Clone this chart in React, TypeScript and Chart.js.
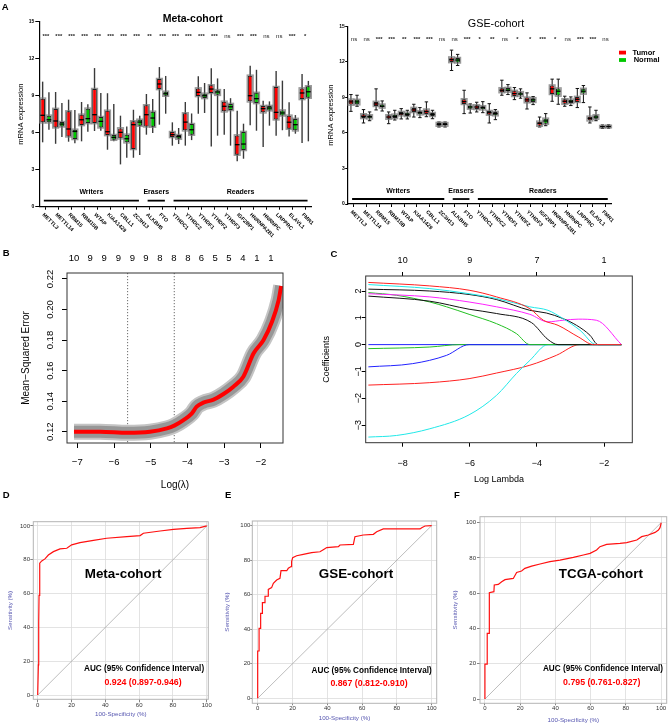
import React, { useEffect, useRef } from 'react';
import { Chart, registerables } from 'chart.js';

Chart.register(...registerables);

const FONT = '"Liberation Sans", Arial, Helvetica, sans-serif';
Chart.defaults.font.family = FONT;
Chart.defaults.color = '#000';

// ---------------- Panel A data ----------------
const GENES = ['METTL3', 'METTL14', 'RBM15', 'RBM15B', 'WTAP', 'KIAA1429', 'CBLL1', 'ZC3H13', 'ALKBH5', 'FTO', 'YTHDC1', 'YTHDC2', 'YTHDF1', 'YTHDF2', 'YTHDF3', 'IGF2BP1', 'HNRNPA2B1', 'HNRNPC', 'LRPPRC', 'ELAVL1', 'FMR1'];
const GROUP_NAMES = ['Writers', 'Erasers', 'Readers'];
const GROUP_SPANS = [[0, 7], [8, 9], [10, 20]];
const SERIES_NAMES = ['Tumor', 'Normal'];
const Y_TICKS_A = [0, 3, 6, 9, 12, 15];
const META_SIG = ['***', '***', '***', '***', '***', '***', '***', '***', '**', '***', '***', '***', '***', '***', 'ns', '***', '***', 'ns', 'ns', '***', '*'];
const GSE_SIG = ['ns', 'ns', '***', '***', '**', '***', '***', 'ns', 'ns', '***', '*', '**', 'ns', '*', '*', '***', '*', 'ns', '***', '***', 'ns'];

// [min, q1, median, q3, max]
const META_TUMOR = [
  [5.22, 6.84, 7.41, 8.76, 10.14], [5.1, 6.43, 6.95, 7.93, 9.3], [5.27, 5.7, 6.3, 7.73, 8.68],
  [5.3, 6.62, 7.05, 7.46, 8.49], [6.14, 6.78, 7.46, 9.54, 11.24], [4.62, 5.81, 6.08, 7.78, 9.2],
  [3.43, 5.54, 6.03, 6.35, 7.38], [3.97, 4.68, 6.65, 6.92, 7.86], [5.84, 6.51, 7.46, 8.22, 9.14],
  [6.65, 9.54, 9.95, 10.35, 11.32], [4.95, 5.65, 5.84, 6.05, 6.84], [4.95, 6.19, 6.86, 7.57, 8.49],
  [7.54, 8.97, 9.27, 9.59, 10.57], [4.89, 9.22, 9.54, 9.84, 11.22], [5.84, 7.73, 8.14, 8.51, 9.54],
  [3.68, 4.22, 5.03, 5.78, 7.78], [6.6, 8.54, 9.0, 10.62, 11.43], [4.85, 7.65, 7.95, 8.16, 8.6],
  [5.76, 7.08, 7.65, 9.7, 11.0], [5.7, 6.33, 6.85, 7.38, 8.46], [5.16, 8.73, 9.22, 9.59, 10.76],
];
const META_NORMAL = [
  [6.24, 6.84, 7.05, 7.38, 9.27], [5.65, 6.51, 6.7, 6.86, 8.4], [5.14, 5.49, 6.1, 6.24, 7.84],
  [6.08, 6.78, 7.14, 7.95, 8.3], [6.16, 6.43, 6.92, 7.27, 9.22], [5.3, 5.43, 5.62, 5.81, 8.32],
  [3.97, 5.22, 5.51, 5.84, 6.51], [4.19, 6.57, 6.86, 7.05, 7.38], [5.97, 6.49, 7.19, 7.7, 8.73],
  [7.54, 9.0, 9.16, 9.32, 10.6], [5.08, 5.51, 5.68, 5.81, 6.38], [5.4, 5.84, 6.24, 6.7, 7.56],
  [7.6, 8.81, 9.0, 9.16, 10.03], [5.76, 9.07, 9.3, 9.45, 10.4], [4.95, 7.84, 8.1, 8.33, 8.8],
  [3.89, 4.6, 5.08, 6.06, 6.73], [6.16, 8.4, 8.76, 9.23, 11.1], [6.57, 7.81, 8.0, 8.17, 8.54],
  [6.2, 7.4, 7.6, 7.8, 10.22], [5.92, 6.19, 6.65, 7.12, 7.43], [5.3, 8.84, 9.32, 9.76, 10.2],
];
const GSE_TUMOR = [
  [7.82, 8.39, 8.62, 8.81, 9.24], [6.84, 7.26, 7.4, 7.57, 7.97], [7.94, 8.28, 8.45, 8.62, 9.72],
  [6.78, 7.2, 7.34, 7.49, 7.77], [7.18, 7.49, 7.63, 7.77, 8.05], [7.34, 7.77, 7.94, 8.11, 8.42],
  [7.37, 7.6, 7.8, 7.97, 8.62], [6.5, 6.61, 6.72, 6.84, 6.92], [11.27, 11.98, 12.18, 12.37, 12.99],
  [7.63, 8.45, 8.64, 8.84, 9.6], [7.77, 8.02, 8.19, 8.33, 8.59], [6.84, 7.54, 7.71, 7.85, 8.47],
  [9.18, 9.44, 9.6, 9.77, 10.45], [8.81, 9.12, 9.32, 9.55, 9.83], [8.02, 8.59, 8.79, 8.98, 9.38],
  [6.5, 6.61, 6.81, 6.95, 7.34], [8.67, 9.29, 9.72, 10.0, 10.54], [8.25, 8.47, 8.67, 8.84, 9.1],
  [8.14, 8.62, 8.84, 9.04, 9.75], [6.84, 7.06, 7.23, 7.37, 8.19], [6.38, 6.47, 6.53, 6.58, 6.67],
];
const GSE_NORMAL = [
  [8.25, 8.42, 8.62, 8.79, 9.18], [7.03, 7.23, 7.37, 7.49, 7.77], [7.85, 8.14, 8.25, 8.39, 8.7],
  [7.09, 7.26, 7.4, 7.54, 7.91], [7.18, 7.43, 7.57, 7.71, 7.91], [7.29, 7.57, 7.71, 7.82, 8.14],
  [7.2, 7.43, 7.57, 7.68, 7.91], [6.5, 6.62, 6.72, 6.83, 6.92], [11.69, 11.95, 12.15, 12.32, 12.63],
  [7.68, 8.05, 8.19, 8.31, 8.45], [7.71, 7.99, 8.14, 8.25, 8.64], [7.12, 7.49, 7.63, 7.77, 7.97],
  [9.24, 9.49, 9.6, 9.8, 10.08], [8.93, 9.15, 9.29, 9.44, 9.72], [8.39, 8.62, 8.79, 8.93, 9.07],
  [6.61, 6.78, 7.01, 7.2, 7.63], [8.42, 9.15, 9.52, 9.75, 10.54], [8.31, 8.53, 8.67, 8.81, 9.04],
  [8.56, 9.32, 9.52, 9.72, 10.0], [7.03, 7.2, 7.34, 7.49, 7.91], [6.4, 6.48, 6.54, 6.6, 6.68],
];

// ---------------- Panel B data ----------------
const LAMBDA_B = [-7.09, -6.38, -5.63, -5.02, -4.56, -4.36, -4.11, -3.88, -3.75, -3.57, -3.29, -3.02, -2.75, -2.48, -2.2, -1.93, -1.7, -1.52, -1.45];
const MSE_B = [0.12, 0.12, 0.1193, 0.12, 0.1222, 0.124, 0.1276, 0.132, 0.1364, 0.139, 0.141, 0.1447, 0.1495, 0.156, 0.1713, 0.18, 0.192, 0.206, 0.2154];
const LAMBDA_MIN = -5.63;
const LAMBDA_1SE = -4.36;
const B_TOP_POS = [-7.09, -6.65, -6.27, -5.88, -5.5, -5.13, -4.75, -4.37, -3.99, -3.62, -3.25, -2.87, -2.49, -2.11, -1.73];
const B_TOP_LABELS = ['10', '9', '9', '9', '9', '9', '8', '8', '8', '6', '5', '5', '4', '1', '1'];
const B_X_TICKS = [-7, -6, -5, -4, -3, -2];
const B_Y_TICKS = [0.12, 0.14, 0.16, 0.18, 0.2, 0.22];

// ---------------- Panel C data ----------------
const C_X_TICKS = [-8, -6, -4, -2];
const C_TOP_LABELS = ['10', '9', '7', '1'];
const C_Y_TICKS = [-3, -2, -1, 0, 1, 2];
const PATH_RED_1 = [[-9.02, 2.32], [-7.19, 2.19], [-6.02, 2.03], [-5.2, 1.78], [-4.21, 1.34], [-3.81, 0.91], [-3.37, 0.72], [-2.77, 0.29], [-2.31, 0], [-1.48, 0]];
const PATH_CYAN_1 = [[-9.02, 2.24], [-7.19, 2.09], [-6.02, 1.9], [-5.2, 1.72], [-4.21, 1.41], [-3.67, 1.28], [-3.22, 0.97], [-2.72, 0.54], [-2.23, 0], [-1.48, 0]];
const PATH_BLACK_1 = [[-9.02, 2.07], [-7.19, 2.0], [-6.02, 1.87], [-5.2, 1.68], [-4.21, 1.28], [-3.72, 1.18], [-3.22, 0.97], [-2.82, 0.72], [-2.42, 0.35], [-2.18, 0], [-1.48, 0]];
const PATH_MAGENTA = [[-9.02, 1.9], [-7.19, 1.78], [-6.02, 1.59], [-5.2, 1.41], [-4.21, 1.13], [-3.67, 0.85], [-3.22, 0.91], [-2.77, 0.95], [-2.23, 0.91], [-1.48, 0]];
const PATH_GREEN_1 = [[-9.02, 1.94], [-8.18, 1.84], [-7.19, 1.59], [-6.69, 1.41], [-6.02, 1.13], [-5.2, 0.78], [-4.61, 0.41], [-4.21, 0], [-1.48, 0]];
const PATH_BLACK_2 = [[-9.02, 1.81], [-7.19, 1.62], [-6.02, 1.32], [-5.2, 1.16], [-4.16, 0.82], [-3.67, 0.19], [-3.37, 0], [-1.48, 0]];
const PATH_GREEN_2 = [[-9.02, -0.15], [-7.19, -0.09], [-6.3, 0], [-1.48, 0]];
const PATH_BLUE_1 = [[-9.02, -0.83], [-7.7, -0.71], [-6.69, -0.4], [-6.02, 0], [-1.48, 0]];
const PATH_BLUE_2 = [[-9.02, 0], [-1.48, 0]];
const PATH_RED_2 = [[-9.02, -1.51], [-7.19, -1.42], [-6.02, -1.27], [-5.2, -1.06], [-4.21, -0.77], [-3.42, -0.4], [-2.72, 0], [-1.48, 0]];
const PATH_CYAN_2 = [[-9.02, -3.45], [-8.18, -3.39], [-7.19, -3.14], [-6.02, -2.62], [-5.2, -1.89], [-4.61, -1.08], [-4.21, -0.59], [-3.67, 0], [-1.48, 0]];
// listed top-most first (Chart.js paints dataset 0 last, i.e. on top)
const C_PATHS = [
  { pts: PATH_RED_1, color: '#ff2020' }, { pts: PATH_CYAN_1, color: '#20e8e8' }, { pts: PATH_BLACK_1, color: '#111111' },
  { pts: PATH_MAGENTA, color: '#ff22ff' }, { pts: PATH_BLACK_2, color: '#111111' }, { pts: PATH_GREEN_1, color: '#22c022' },
  { pts: PATH_CYAN_2, color: '#20e8e8' }, { pts: PATH_RED_2, color: '#ff2020' }, { pts: PATH_BLUE_1, color: '#2222ff' },
  { pts: PATH_GREEN_2, color: '#22c022' }, { pts: PATH_BLUE_2, color: '#2222ff' },
];

// ---------------- Panels D-F data ----------------
const ROC_TICKS = [0, 20, 40, 60, 80, 100];
const DIAGONAL = [0, 100];
const META_FPR = [0, 0.4, 0.6, 0.8, 1.2, 2.4, 4.3, 6.3, 9.3, 13.2, 17.2, 20.1, 25, 33, 40.8, 52.7, 60.6, 62.5, 72.4, 80.3, 88.2, 96, 100];
const META_TPR = [0, 17.8, 43, 59, 78, 79.3, 80.5, 82.8, 84.8, 86.4, 86.8, 88.8, 90.1, 91.5, 92.7, 93.7, 94.3, 95.7, 97, 98, 98.6, 99, 100];
const GSE_FPR = [0, 0, 0.8, 0.8, 1.7, 1.7, 2.7, 2.7, 4.2, 4.2, 6.1, 6.1, 8, 9, 10.9, 12.8, 13.4, 16.7, 17.6, 19.2, 19.5, 20.1, 22.4, 26.2, 31, 35.8, 37.7, 39.7, 46.4, 47.3, 55, 55.9, 60.7, 66.5, 68.4, 72.2, 93.3, 94.3, 96.2, 100];
const GSE_TPR = [0, 27.4, 27.4, 40.5, 40.5, 49.2, 49.2, 55.4, 55.4, 59.1, 59.1, 63.1, 64.1, 66.6, 68.5, 69.5, 73.9, 73.9, 75.3, 76.3, 79.2, 81.5, 82.6, 83.4, 84.4, 84.9, 86.1, 87.3, 87.8, 88.8, 89.2, 93.6, 94.6, 95, 96.5, 98.1, 98.1, 98.8, 99.8, 100];
const TCGA_FPR = [0, 0, 1.3, 1.3, 2.5, 2.5, 5.1, 5.3, 7.6, 9.5, 11.4, 16.1, 18, 20.8, 22.7, 26.5, 31.3, 36.9, 42.6, 50.2, 55.9, 59.7, 63.4, 65.3, 69.1, 76.7, 80.5, 86.2, 89, 92.8, 96.6, 98.5, 99.4, 100, 100];
const TCGA_TPR = [0, 19.8, 19.8, 37.2, 37.2, 60.3, 60.9, 64.7, 65, 66.5, 67.7, 68.4, 71.8, 72.6, 74.1, 75.4, 76.6, 77.9, 78.8, 80.3, 81.7, 82.6, 84.5, 86.4, 87.7, 88.3, 88.7, 90.2, 92.1, 93, 94.5, 95.8, 97.2, 99.6, 100];
const AUC_LABEL = 'AUC (95% Confidence Interval)';
const META_AUC = '0.924 (0.897-0.946)';
const GSE_AUC = '0.867 (0.812-0.910)';
const TCGA_AUC = '0.795 (0.761-0.827)';

// ---------------- Panel A config ----------------
function boxConfig(o: any) {
  const plugin = {
    id: 'boxExtras',
    beforeDatasetsDraw(chart: any) {
      const { ctx } = chart;
      const y = chart.scales.y;
      ctx.save();
      [o.tumor, o.normal].forEach((stats: number[][], di: number) => {
        const meta = chart.getDatasetMeta(di);
        meta.data.forEach((el: any, j: number) => {
          const s = stats[j];
          const x = el.x;
          const yHi = y.getPixelForValue(s[4]);
          const yLo = y.getPixelForValue(s[0]);
          ctx.strokeStyle = o.whiskerColor;
          ctx.lineWidth = o.whiskerWidth;
          ctx.beginPath();
          ctx.moveTo(x, yHi);
          ctx.lineTo(x, yLo);
          if (o.caps) {
            ctx.moveTo(x - 1.7, yHi); ctx.lineTo(x + 1.7, yHi);
            ctx.moveTo(x - 1.7, yLo); ctx.lineTo(x + 1.7, yLo);
          }
          ctx.stroke();
          const w = el.width;
          const t = y.getPixelForValue(s[3]);
          const b = y.getPixelForValue(s[1]);
          ctx.strokeStyle = 'rgba(120,120,120,0.75)';
          ctx.lineWidth = 1.4;
          ctx.strokeRect(x - w / 2 - 0.6, t - 0.6, w + 1.2, b - t + 1.2);
        });
      });
      ctx.restore();
    },
    afterDatasetsDraw(chart: any) {
      const { ctx } = chart;
      const y = chart.scales.y;
      ctx.save();
      ctx.strokeStyle = '#000';
      ctx.lineWidth = 1.3;
      [o.tumor, o.normal].forEach((stats: number[][], di: number) => {
        chart.getDatasetMeta(di).data.forEach((el: any, j: number) => {
          const m = y.getPixelForValue(stats[j][2]);
          ctx.beginPath();
          ctx.moveTo(el.x - el.width / 2, m);
          ctx.lineTo(el.x + el.width / 2, m);
          ctx.stroke();
        });
      });
      ctx.restore();
    },
    afterDraw(chart: any) {
      const { ctx, chartArea } = chart;
      const xs = chart.scales.x;
      const ys = chart.scales.y;
      ctx.save();
      ctx.fillStyle = '#000';
      ctx.font = o.titleFont;
      ctx.textAlign = 'center';
      ctx.textBaseline = 'middle';
      ctx.fillText(o.title, o.titleX, o.titleY);
      ctx.textBaseline = 'alphabetic';
      const sy = ys.getPixelForValue(o.sigValue);
      o.sig.forEach((s: string, i: number) => {
        ctx.font = s === 'ns' ? `6px ${FONT}` : `bold 5.8px ${FONT}`;
        ctx.fillStyle = '#222';
        ctx.fillText(s, xs.getPixelForValue(i), sy);
      });
      ctx.strokeStyle = '#000';
      ctx.lineWidth = 1.8;
      ctx.fillStyle = '#000';
      ctx.font = `bold 7px ${FONT}`;
      ctx.textBaseline = 'middle';
      GROUP_SPANS.forEach((sp, gi) => {
        const x0 = xs.getPixelForValue(sp[0] - 0.15);
        const x1 = xs.getPixelForValue(sp[1] + 0.18);
        const ly = ys.getPixelForValue(o.groupLineValue);
        ctx.beginPath();
        ctx.moveTo(x0, ly);
        ctx.lineTo(x1, ly);
        ctx.stroke();
        ctx.fillText(GROUP_NAMES[gi], (x0 + x1) / 2, ys.getPixelForValue(o.groupLabelValue));
      });
      ctx.font = `bold 5.3px ${FONT}`;
      ctx.textAlign = 'left';
      ctx.textBaseline = 'alphabetic';
      GENES.forEach((g, i) => {
        const px = xs.getPixelForValue(i);
        ctx.save();
        ctx.translate(px - 3.8, chartArea.bottom + 8.3);
        ctx.rotate(Math.PI / 4);
        ctx.fillText(g, 0, 0);
        ctx.restore();
      });
      if (o.legend) {
        const colors = ['#ff0000', '#00c800'];
        ctx.font = `bold 7.5px ${FONT}`;
        ctx.textBaseline = 'middle';
        SERIES_NAMES.forEach((n, i) => {
          const ly = o.legendY + i * 7.4;
          ctx.fillStyle = colors[i];
          ctx.fillRect(o.legendX, ly - 1.9, 7, 3.8);
          ctx.fillStyle = '#000';
          ctx.fillText(n, o.legendX + 13.5 + i * 1.2, ly);
        });
      }
      ctx.restore();
    },
  };
  const ds = (name: string, stats: number[][], color: string) => ({
    label: name,
    data: stats.map((s) => [s[1], s[3]]),
    backgroundColor: color,
    borderColor: '#1e1e1e',
    borderWidth: 1,
    borderSkipped: false,
    barPercentage: 0.74,
    categoryPercentage: 0.97,
  });
  return {
    type: 'bar',
    data: {
      labels: GENES,
      datasets: [ds(SERIES_NAMES[0], o.tumor, '#ff0000'), ds(SERIES_NAMES[1], o.normal, '#00c800')],
    },
    options: {
      animation: false,
      responsive: false,
      events: [],
      layout: { padding: { left: 0, top: o.padTop, right: o.padRight, bottom: 0 } },
      plugins: { legend: { display: false }, tooltip: { enabled: false } },
      scales: {
        x: {
          type: 'category',
          offset: true,
          ticks: { display: false },
          grid: { drawOnChartArea: false, drawTicks: true, tickLength: 3, offset: false, color: '#000', lineWidth: 1 },
          border: { display: true, color: '#000', width: 1.2 },
          afterFit: (s: any) => { s.height = o.xHeight; },
        },
        y: {
          min: 0,
          max: 15,
          afterBuildTicks: (s: any) => { s.ticks = Y_TICKS_A.map((v) => ({ value: v })); },
          ticks: { font: { size: 5, weight: 'bold' }, color: '#000', padding: o.yTickPad },
          grid: { drawOnChartArea: false, tickLength: o.yTickLen, color: '#000' },
          border: { color: '#000', width: 1.2 },
          title: { display: true, text: 'mRNA expression', color: '#000', font: { size: 7.6 }, padding: { top: o.yTitlePad, bottom: 0 } },
          afterFit: (s: any) => { s.width = o.yWidth; },
        },
      },
    },
    plugins: [plugin],
  };
}

const metaConfig = () => boxConfig({
  tumor: META_TUMOR, normal: META_NORMAL, sig: META_SIG,
  title: 'Meta-cohort', titleFont: `bold 10.5px ${FONT}`, titleX: 192.7, titleY: 19.5,
  padTop: 21.7, padRight: 8.3, yWidth: 39.3, xHeight: 33.3, yTitlePad: 16.4, yTickLen: 4, yTickPad: 1,
  sigValue: 13.66, groupLineValue: 0.49, groupLabelValue: 1.19,
  whiskerColor: '#3a3a3a', whiskerWidth: 1.4, caps: false, legend: false,
});
const gseConfig = () => boxConfig({
  tumor: GSE_TUMOR, normal: GSE_NORMAL, sig: GSE_SIG,
  title: 'GSE-cohort', titleFont: `10.8px ${FONT}`, titleX: 176, titleY: 24.2,
  padTop: 26.3, padRight: 57.2, yWidth: 27.7, xHeight: 36, yTitlePad: 6.4, yTickLen: 2.5, yTickPad: 0.5,
  sigValue: 13.78, groupLineValue: 0.42, groupLabelValue: 1.1,
  whiskerColor: '#111', whiskerWidth: 1, caps: true, legend: true, legendX: 299, legendY: 52.6,
});

// ---------------- Panel B config ----------------
const framePlugin = (color: string, width: number) => ({
  id: 'frame',
  afterDatasetsDraw(chart: any) {
    const { ctx, chartArea: a } = chart;
    ctx.save();
    ctx.strokeStyle = color;
    ctx.lineWidth = width;
    ctx.strokeRect(a.left, a.top, a.right - a.left, a.bottom - a.top);
    ctx.restore();
  },
});

const minus = (v: number) => (v < 0 ? '\u2212' + Math.abs(v) : String(v));

function cvConfig() {
  const line = (color: string, width: number) => ({
    data: LAMBDA_B.map((x, i) => ({ x, y: MSE_B[i] })),
    borderColor: color, borderWidth: width, pointRadius: 0, cubicInterpolationMode: 'monotone', fill: false,
  });
  const vlines = {
    id: 'vlines',
    beforeDatasetsDraw(chart: any) {
      const { ctx, chartArea: a } = chart;
      const xs = chart.scales.x;
      ctx.save();
      ctx.strokeStyle = '#444';
      ctx.lineWidth = 0.8;
      ctx.setLineDash([1.2, 1.8]);
      [LAMBDA_MIN, LAMBDA_1SE].forEach((v) => {
        const px = xs.getPixelForValue(v);
        ctx.beginPath();
        ctx.moveTo(px, a.top);
        ctx.lineTo(px, a.bottom);
        ctx.stroke();
      });
      ctx.restore();
    },
  };
  return {
    type: 'line',
    // first dataset is painted on top
    data: { datasets: [line('#ff0000', 4), line('#979797', 12), line('#c4c4c4', 16)] },
    options: {
      animation: false,
      responsive: false,
      events: [],
      layout: { padding: { left: 0, top: 0, right: 32, bottom: 0 } },
      plugins: { legend: { display: false }, tooltip: { enabled: false } },
      scales: {
        x: {
          type: 'linear', min: -7.28, max: -1.4,
          afterBuildTicks: (s: any) => { s.ticks = B_X_TICKS.map((v) => ({ value: v })); },
          ticks: { font: { size: 9.5 }, color: '#000', padding: 8.3, maxRotation: 0, autoSkip: false, callback: (v: number) => minus(v) },
          grid: { drawOnChartArea: false, tickLength: 5, color: '#000' },
          border: { display: false },
          title: { display: true, text: 'Log(\u03bb)', font: { size: 10 }, color: '#000', padding: { top: 0, bottom: 1 } },
          afterFit: (s: any) => { s.height = 49; },
        },
        x2: {
          type: 'linear', position: 'top', min: -7.28, max: -1.4,
          afterBuildTicks: (s: any) => { s.ticks = B_TOP_POS.map((v) => ({ value: v })); },
          ticks: { font: { size: 9.5 }, color: '#000', padding: 9.3, maxRotation: 0, minRotation: 0, autoSkip: false, callback: (_v: number, i: number) => B_TOP_LABELS[i] },
          grid: { display: false, drawTicks: false },
          border: { display: false },
          afterFit: (s: any) => { s.height = 33; },
        },
        y: {
          type: 'linear', min: 0.1126, max: 0.2239,
          afterBuildTicks: (s: any) => { s.ticks = B_Y_TICKS.map((v) => ({ value: v })); },
          ticks: { font: { size: 9.5 }, color: '#000', padding: 2.75, minRotation: 90, maxRotation: 90, crossAlign: 'center', autoSkip: false, callback: (v: number) => v.toFixed(2) },
          grid: { drawOnChartArea: false, tickLength: 5, color: '#000' },
          border: { display: false },
          title: { display: true, text: 'Mean\u2212Squared Error', font: { size: 10 }, color: '#000', padding: { top: 20, bottom: 0 } },
          afterFit: (s: any) => { s.width = 67; },
        },
      },
    },
    plugins: [vlines, framePlugin('#333', 1)],
  };
}

// ---------------- Panel C config ----------------
function lassoConfig() {
  return {
    type: 'line',
    data: {
      datasets: C_PATHS.map((p) => ({
        data: p.pts.map((q) => ({ x: q[0], y: q[1] })),
        borderColor: p.color, borderWidth: 1, pointRadius: 0, cubicInterpolationMode: 'monotone', fill: false,
      })),
    },
    options: {
      animation: false,
      responsive: false,
      events: [],
      layout: { padding: { left: 0, top: 0, right: 36.7, bottom: 0 } },
      plugins: { legend: { display: false }, tooltip: { enabled: false } },
      scales: {
        x: {
          type: 'linear', min: -9.1, max: -1.158,
          afterBuildTicks: (s: any) => { s.ticks = C_X_TICKS.map((v) => ({ value: v })); },
          ticks: { font: { size: 9 }, color: '#000', padding: 11, maxRotation: 0, autoSkip: false, callback: (v: number) => minus(v) },
          grid: { drawOnChartArea: false, tickLength: 4, color: '#000' },
          border: { display: false },
          title: { display: true, text: 'Log Lambda', font: { size: 9 }, color: '#000', padding: { top: 0, bottom: 4.6 } },
          afterFit: (s: any) => { s.height = 47.3; },
        },
        x2: {
          type: 'linear', position: 'top', min: -9.1, max: -1.158,
          afterBuildTicks: (s: any) => { s.ticks = C_X_TICKS.map((v) => ({ value: v })); },
          ticks: { font: { size: 9 }, color: '#000', padding: 5.9, maxRotation: 0, autoSkip: false, callback: (_v: number, i: number) => C_TOP_LABELS[i] },
          grid: { drawOnChartArea: false, tickLength: 4, color: '#000' },
          border: { display: false },
          afterFit: (s: any) => { s.height = 36; },
        },
        y: {
          type: 'linear', min: -3.66, max: 2.56,
          afterBuildTicks: (s: any) => { s.ticks = C_Y_TICKS.map((v) => ({ value: v })); },
          ticks: { font: { size: 9 }, color: '#000', padding: -2, minRotation: 90, maxRotation: 90, crossAlign: 'center', autoSkip: false, callback: (v: number) => minus(v) },
          grid: { drawOnChartArea: false, tickLength: 4, color: '#000' },
          border: { display: false },
          title: { display: true, text: 'Coefficients', font: { size: 9 }, color: '#000', padding: { top: 6.6, bottom: 0 } },
          afterFit: (s: any) => { s.width = 50.7; },
        },
      },
    },
    plugins: [framePlugin('#333', 1)],
  };
}

// ---------------- Panels D-F config ----------------
function rocConfig(o: any) {
  const text = {
    id: 'rocText',
    afterDraw(chart: any) {
      const { ctx } = chart;
      const xs = chart.scales.x;
      const ys = chart.scales.y;
      ctx.save();
      ctx.textAlign = 'center';
      ctx.textBaseline = 'middle';
      ctx.fillStyle = '#000';
      ctx.font = `bold 13.4px ${FONT}`;
      ctx.fillText(o.title, xs.getPixelForValue(o.titlePos[0]), ys.getPixelForValue(o.titlePos[1]));
      ctx.font = `bold 8.2px ${FONT}`;
      ctx.fillText(AUC_LABEL, xs.getPixelForValue(o.aucPos[0]), ys.getPixelForValue(o.aucPos[1]));
      ctx.fillStyle = '#ff0000';
      ctx.font = `bold 8.8px ${FONT}`;
      ctx.fillText(o.auc, xs.getPixelForValue(o.valPos[0]), ys.getPixelForValue(o.valPos[1]));
      ctx.restore();
    },
  };
  const tickCfg = (pad: number) => ({
    font: { size: 6 }, color: '#333', padding: pad, maxRotation: 0, autoSkip: false,
  });
  return {
    type: 'line',
    data: {
      datasets: [
        { data: o.fpr.map((x: number, i: number) => ({ x, y: o.tpr[i] })), borderColor: '#ff1010', borderWidth: 1.2, pointRadius: 0 },
        { data: DIAGONAL.map((v) => ({ x: v, y: v })), borderColor: '#a0a0a0', borderWidth: 0.7, pointRadius: 0 },
      ],
    },
    options: {
      animation: false,
      responsive: false,
      events: [],
      layout: { padding: { left: 0, top: o.padTop, right: o.padRight, bottom: 0 } },
      plugins: { legend: { display: false }, tooltip: { enabled: false } },
      scales: {
        x: {
          type: 'linear', min: o.xMin, max: o.xMax,
          afterBuildTicks: (s: any) => { s.ticks = ROC_TICKS.map((v) => ({ value: v })); },
          ticks: tickCfg(o.xTickPad),
          grid: { color: '#dcdcdc', lineWidth: 0.8, tickLength: o.xTickLen, tickColor: '#666' },
          border: { display: false },
          title: { display: true, text: '100-Specificity (%)', color: '#5656b0', font: { size: 6.2 }, padding: { top: 0, bottom: o.xTitlePad } },
          afterFit: (s: any) => { s.height = o.xHeight; },
        },
        y: {
          type: 'linear', min: o.yMin, max: o.yMax,
          afterBuildTicks: (s: any) => { s.ticks = ROC_TICKS.map((v) => ({ value: v })); },
          ticks: tickCfg(o.yTickPad),
          grid: { color: '#dcdcdc', lineWidth: 0.8, tickLength: o.yTickLen, tickColor: '#666' },
          border: { display: false },
          title: { display: true, text: 'Sensitivity (%)', color: '#5656b0', font: { size: 6.2 }, padding: { top: o.yTitlePad, bottom: 0 } },
          afterFit: (s: any) => { s.width = o.yWidth; },
        },
      },
    },
    plugins: [framePlugin('#b4b4b4', 1), text],
  };
}

const metaRoc = () => rocConfig({
  fpr: META_FPR, tpr: META_TPR, title: 'Meta-cohort', auc: META_AUC,
  titlePos: [50.5, 71.6], aucPos: [62.9, 15.4], valPos: [62.3, 7.1],
  padTop: 36.7, padRight: 11.7, yWidth: 33.3, xHeight: 25.7,
  xMin: -2.6, xMax: 100.9, yMin: -2.5, yMax: 102.5,
  xTickPad: -0.5, xTickLen: 3, yTickPad: 0.3, yTickLen: 3, xTitlePad: 7.4, yTitlePad: 6.4,
});
const gseRoc = () => rocConfig({
  fpr: GSE_FPR, tpr: GSE_TPR, title: 'GSE-cohort', auc: GSE_AUC,
  titlePos: [56.5, 72], aucPos: [65.5, 15.8], valPos: [64, 8.3],
  padTop: 36, padRight: 8.3, yWidth: 32.3, xHeight: 21.7,
  xMin: -3.1, xMax: 102.9, yMin: -2.9, yMax: 102.7,
  xTickPad: -1, xTickLen: 2, yTickPad: 0, yTickLen: 2, xTitlePad: 3.1, yTitlePad: 3.1,
});
const tcgaRoc = () => rocConfig({
  fpr: TCGA_FPR, tpr: TCGA_TPR, title: 'TCGA-cohort', auc: TCGA_AUC,
  titlePos: [65.8, 70.9], aucPos: [67, 17], valPos: [66.3, 9.2],
  padTop: 31.7, padRight: 2.3, yWidth: 35, xHeight: 21.7,
  xMin: -2.8, xMax: 103.2, yMin: -2.4, yMax: 103.4,
  xTickPad: -0.6, xTickLen: 2, yTickPad: 1, yTickLen: 3, xTitlePad: 1.4, yTitlePad: 6.4,
});

// ---------------- components ----------------
function ChartCanvas({ x, y, w, h, make }: any) {
  const ref = useRef<HTMLCanvasElement | null>(null);
  useEffect(() => {
    if (!ref.current) return;
    const chart = new Chart(ref.current, make());
    return () => chart.destroy();
  }, [make]);
  return <canvas ref={ref} width={w} height={h} style={{ position: 'absolute', left: x, top: y, width: w, height: h }} />;
}

function Letter({ x, y, children }: any) {
  return (
    <div style={{ position: 'absolute', left: x, top: y, font: `bold 9.5px ${FONT}`, lineHeight: '10px', color: '#000' }}>
      {children}
    </div>
  );
}

export default function App() {
  return (
    <div style={{ position: 'absolute', left: 0, top: 0, width: 669, height: 725, background: '#fff', overflow: 'hidden' }}>
      <ChartCanvas x={0} y={0} w={320} h={240} make={metaConfig} />
      <ChartCanvas x={320} y={0} w={349} h={240} make={gseConfig} />
      <ChartCanvas x={0} y={240} w={315} h={252} make={cvConfig} />
      <ChartCanvas x={315} y={240} w={354} h={250} make={lassoConfig} />
      <ChartCanvas x={0} y={485} w={220} h={240} make={metaRoc} />
      <ChartCanvas x={220} y={485} w={225} h={240} make={gseRoc} />
      <ChartCanvas x={445} y={485} w={224} h={240} make={tcgaRoc} />
      <Letter x={1.7} y={1.8}>A</Letter>
      <Letter x={2.7} y={247.8}>B</Letter>
      <Letter x={330.5} y={248.5}>C</Letter>
      <Letter x={2.7} y={490.2}>D</Letter>
      <Letter x={225} y={490.2}>E</Letter>
      <Letter x={454} y={489.5}>F</Letter>
    </div>
  );
}
